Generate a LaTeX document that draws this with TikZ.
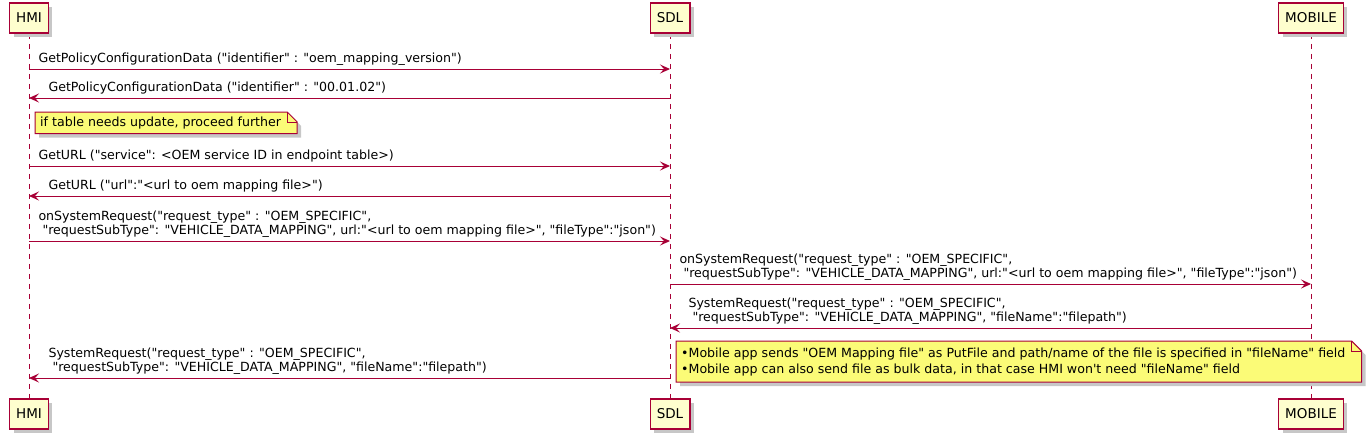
\documentclass[tikz,border=0pt]{standalone}
\usepackage{fontspec}
\newfontfamily\umlfont{DejaVu Sans}
\usetikzlibrary{arrows.meta,positioning,backgrounds,shadows}
\definecolor{umlred}{HTML}{A80036}
\definecolor{umlbox}{HTML}{FEFECE}
\definecolor{umlnote}{HTML}{FBFB77}

% folded-corner outline behind a note node
\newcommand\dogear[1]{%
  \begin{scope}[on background layer]
    \coordinate (#1-ne) at ([xshift=11pt]#1.north east);
    \coordinate (#1-se) at ([xshift=11pt]#1.south east);
    \fill[black!22,transform canvas={xshift=4pt,yshift=-4pt}] (#1.south west) -- (#1.north west)
      -- ([xshift=-10pt]#1-ne) -- ([yshift=-10pt]#1-ne) -- (#1-se) -- cycle;
    \filldraw[draw=umlred,fill=umlnote,line width=1pt] (#1.south west) -- (#1.north west)
      -- ([xshift=-10pt]#1-ne) -- ([yshift=-10pt]#1-ne) -- (#1-se) -- cycle;
    \draw[umlred,line width=1pt] ([xshift=-10pt]#1-ne) |- ([yshift=-10pt]#1-ne);
  \end{scope}}

\begin{document}
\begin{tikzpicture}[x=1pt,y=-1pt,>={Stealth[length=10pt,width=9pt,inset=4pt]},
    font=\umlfont\fontsize{12.6}{14.5}\selectfont]
  \tikzstyle{actor}=[draw=umlred,line width=1.5pt,fill=umlbox,minimum height=30pt,inner xsep=6.5pt,
    font=\umlfont\fontsize{13.5}{16}\selectfont,
    drop shadow={shadow xshift=4pt,shadow yshift=-4pt,fill=black!22,opacity=1}]
  \tikzstyle{life}=[umlred,line width=1pt,dash pattern=on 5pt off 5pt]
  \tikzstyle{msg}=[->,umlred,line width=1pt]
  \tikzstyle{lbl}=[anchor=south west,inner sep=0pt,text depth=3pt,align=left,text=black,yshift=3pt]
  \tikzstyle{note}=[anchor=north west,inner xsep=5pt,inner ysep=4.5pt,align=left]
  \useasboundingbox (0,0) rectangle (1372,440);

  % participants
  \node[actor] (hmiTop) at (29,18) {HMI};
  \node[actor] (sdlTop) at (670,18) {SDL};
  \node[actor] (mobTop) at (1311,18) {MOBILE};
  \node[actor] (hmiBot) at (29,414) {HMI};
  \node[actor] (sdlBot) at (670,414) {SDL};
  \node[actor] (mobBot) at (1311,414) {MOBILE};

  \begin{scope}[on background layer]
    \draw[life] (hmiTop) -- (hmiBot);
    \draw[life] (sdlTop) -- (sdlBot);
    \draw[life] (mobTop) -- (mobBot);
  \end{scope}

  % message rows
  \foreach \i/\y in {1/69,2/98,3/166,4/196,5/241,6/284,7/328,8/378} {
    \coordinate (h\i) at (hmiTop.south |- 0,\y);
    \coordinate (s\i) at (sdlTop.south |- 0,\y);
    \coordinate (m\i) at (mobTop.south |- 0,\y);
  }

  \draw[msg] (h1) -- (s1) node[lbl,pos=0,xshift=9pt] (l1)
    {GetPolicyConfigurationData ("identifier" : "oem\_mapping\_version")};
  \draw[msg] (s2) -- (h2) node[lbl,pos=1,xshift=19pt] (l2)
    {GetPolicyConfigurationData ("identifier" : "00.01.02")};

  \node[note] (n1) at (35,112) {if table needs update, proceed further};
  \dogear{n1}

  \draw[msg] (h3) -- (s3) node[lbl,pos=0,xshift=9pt] (l3)
    {GetURL ("service": <OEM service ID in endpoint table>)};
  \draw[msg] (s4) -- (h4) node[lbl,pos=1,xshift=19pt] (l4)
    {GetURL ("url":"<url to oem mapping file>")};
  \draw[msg] (h5) -- (s5) node[lbl,pos=0,xshift=9pt] (l5)
    {onSystemRequest("request\_type" : "OEM\_SPECIFIC",\\
     \hspace*{4pt}"requestSubType": "VEHICLE\_DATA\_MAPPING", url:"<url to oem mapping file>", "fileType":"json")};
  \draw[msg] (s6) -- (m6) node[lbl,pos=0,xshift=9pt] (l6)
    {onSystemRequest("request\_type" : "OEM\_SPECIFIC",\\
     \hspace*{4pt}"requestSubType": "VEHICLE\_DATA\_MAPPING", url:"<url to oem mapping file>", "fileType":"json")};
  \draw[msg] (m7) -- (s7) node[lbl,pos=1,xshift=18pt] (l7)
    {SystemRequest("request\_type" : "OEM\_SPECIFIC",\\
     \hspace*{4pt}"requestSubType": "VEHICLE\_DATA\_MAPPING", "fileName":"filepath")};
  \draw[msg] (s8) -- (h8) node[lbl,pos=1,xshift=19pt] (l8)
    {SystemRequest("request\_type" : "OEM\_SPECIFIC",\\
     \hspace*{4pt}"requestSubType": "VEHICLE\_DATA\_MAPPING", "fileName":"filepath")};

  \node[note,inner ysep=6.3pt,font=\umlfont\fontsize{12.6}{16}\selectfont] (n2) at (676,341)
    {•Mobile app sends "OEM Mapping file" as PutFile and path/name of the file is specified in "fileName" field\\
     •Mobile app can also send file as bulk data, in that case HMI won't need "fileName" field};
  \dogear{n2}
\end{tikzpicture}
\end{document}
